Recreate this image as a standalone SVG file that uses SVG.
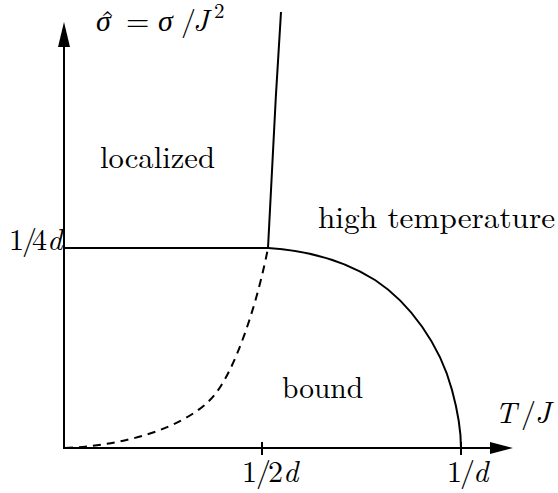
<svg xmlns="http://www.w3.org/2000/svg" width="558" height="493" viewBox="0 0 558 493">
<style>
.ln{fill:none;stroke:#000;stroke-width:2;stroke-linecap:butt}
.t{font-size:30px;fill:#000}
.it{font-style:italic}
</style>
<rect width="558" height="493" fill="#fff"/>
<g id="axes">
<line class="ln" x1="64" y1="449" x2="64" y2="44"/>
<polygon points="64,22 58,47 70,47" fill="#000"/>
<line class="ln" x1="63" y1="448" x2="492" y2="448"/>
<polygon points="513,448 490,442 490,454" fill="#000"/>
<line class="ln" x1="262" y1="442" x2="262" y2="455"/>
<line class="ln" x1="461" y1="442" x2="461" y2="455"/>
</g>
<g id="curves">
<line class="ln" x1="64" y1="248" x2="268" y2="248"/>
<path class="ln" d="M268,248 C300,250 340,258 375,280 C410,303 440,345 452,390 C458,412 461,430 461,448"/>
<path class="ln" d="M268,248 C271,180 276,90 281,12"/>
<path class="ln" stroke-width="2.2" stroke-dasharray="8,6" d="M65,448 C120,446 180,430 210,400 C235,375 258,300 268,248"/>
</g>
<g id="labels" font-family="Latin Modern Roman">
<text id="ylabel" class="t" y="31" font-family="Latin Modern Roman"><tspan x="96" class="it" font-family="Liberation Serif">σ</tspan><tspan x="100" y="32">ˆ</tspan><tspan x="126" y="31">=</tspan><tspan x="158" class="it" font-family="Liberation Serif">σ</tspan><tspan x="181">/</tspan><tspan x="193" class="it">J</tspan><tspan x="214" y="18" style="font-size:21px">2</tspan></text>
<text id="localized" class="t" x="100" y="168" font-family="Latin Modern Roman" textLength="115" lengthAdjust="spacingAndGlyphs">localized</text>
<text id="hightemp" class="t" x="318" y="228" font-family="Latin Modern Roman" textLength="237" lengthAdjust="spacingAndGlyphs">high temperature</text>
<text id="bound" class="t" x="282" y="398" font-family="Latin Modern Roman" textLength="81" lengthAdjust="spacingAndGlyphs">bound</text>
<text id="y14d" class="t" y="250" font-family="Latin Modern Roman"><tspan x="9">1</tspan><tspan x="22">/</tspan><tspan x="32">4</tspan><tspan x="47" class="it">d</tspan></text>
<text id="x12d" class="t" y="482" font-family="Latin Modern Roman"><tspan x="242">1</tspan><tspan x="256">/</tspan><tspan x="268">2</tspan><tspan x="283" class="it">d</tspan></text>
<text id="x1d" class="t" y="482" font-family="Latin Modern Roman"><tspan x="447">1</tspan><tspan x="460">/</tspan><tspan x="473" class="it">d</tspan></text>
<text id="xlabel" class="t" y="423" font-family="Latin Modern Roman"><tspan x="495" class="it">T</tspan><tspan x="521">/</tspan><tspan x="535" class="it">J</tspan></text>
</g>
</svg>
